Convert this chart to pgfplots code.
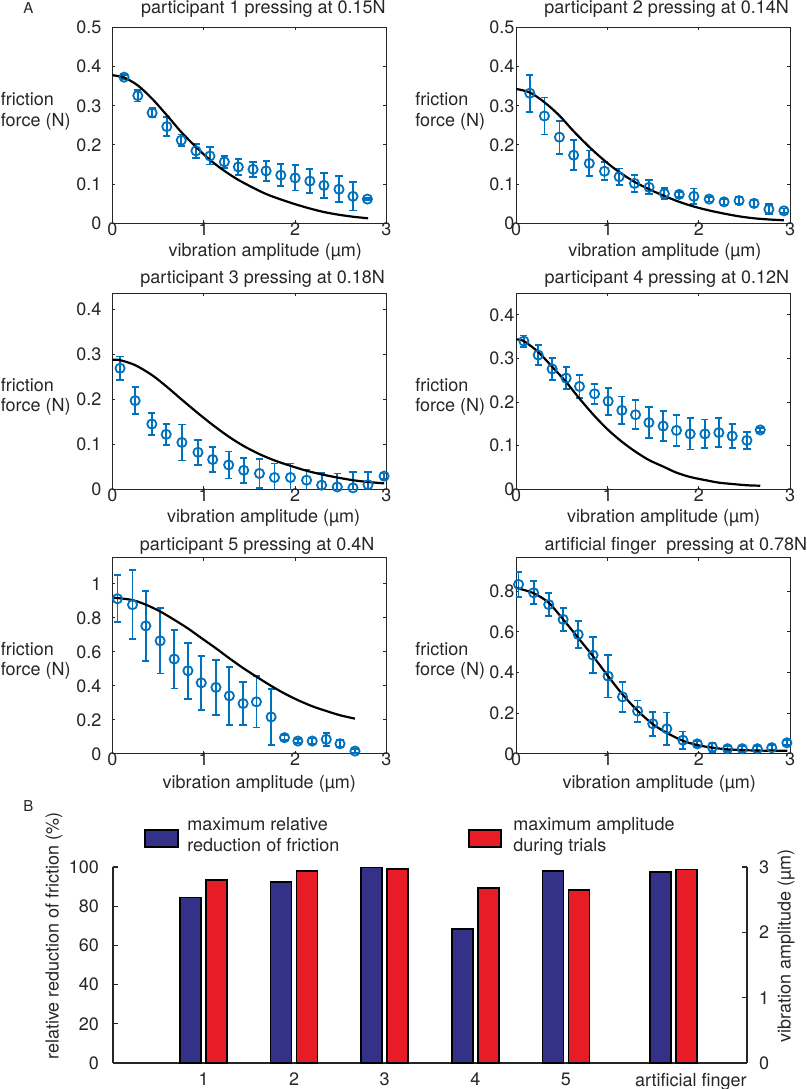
\documentclass[border=0pt]{standalone}
\usepackage{fontspec}
\setmainfont{TeX Gyre Heros}
\usepackage{pgfplots}
\pgfplotsset{compat=1.18}
\usepackage{pgfplotstable}

\definecolor{mblue}{RGB}{0,114,189}
\definecolor{bblue}{RGB}{52,50,136}
\definecolor{bred}{RGB}{232,28,38}
\definecolor{axgray}{RGB}{38,38,38}
\newcommand{\fs}{\fontsize{9}{10.8}\selectfont}

% ---------- panel 1 ----------
\pgfplotstableread{
x y e
0.128 0.373 0.005
0.278 0.326 0.015
0.435 0.282 0.012
0.596 0.247 0.024
0.754 0.212 0.015
0.915 0.185 0.018
1.068 0.172 0.022
1.226 0.157 0.015
1.379 0.144 0.020
1.540 0.138 0.019
1.683 0.134 0.025
1.844 0.123 0.028
2.001 0.116 0.032
2.162 0.108 0.031
2.316 0.097 0.032
2.481 0.087 0.033
2.634 0.069 0.036
2.792 0.062 0.003
}\measA
\pgfplotstableread{
x y
0 0.378
0.128 0.372
0.278 0.352
0.435 0.318
0.596 0.276
0.754 0.233
0.915 0.195
1.068 0.162
1.226 0.134
1.379 0.111
1.540 0.091
1.683 0.075
1.844 0.061
2.001 0.049
2.162 0.038
2.316 0.029
2.481 0.022
2.634 0.017
2.800 0.013
}\fitA
% ---------- panel 2 ----------
\pgfplotstableread{
x y e
0.149 0.332 0.047
0.309 0.274 0.047
0.473 0.220 0.042
0.629 0.174 0.038
0.800 0.153 0.033
0.967 0.133 0.023
1.127 0.119 0.021
1.295 0.102 0.022
1.455 0.092 0.018
1.622 0.076 0.014
1.785 0.074 0.007
1.945 0.069 0.020
2.113 0.062 0.006
2.276 0.055 0.007
2.440 0.058 0.009
2.604 0.051 0.008
2.767 0.036 0.013
2.931 0.032 0.006
}\measB
\pgfplotstableread{
x y
0 0.343
0.149 0.334
0.309 0.309
0.473 0.275
0.629 0.235
0.800 0.195
0.967 0.160
1.127 0.131
1.295 0.106
1.455 0.087
1.622 0.070
1.785 0.055
1.945 0.043
2.113 0.033
2.276 0.025
2.440 0.018
2.604 0.013
2.767 0.010
2.931 0.008
}\fitB
% ---------- panel 3 ----------
\pgfplotstableread{
x y e
0.084 0.269 0.026
0.249 0.197 0.030
0.432 0.145 0.025
0.589 0.122 0.023
0.761 0.104 0.040
0.937 0.082 0.028
1.098 0.066 0.027
1.273 0.054 0.030
1.438 0.042 0.028
1.610 0.035 0.033
1.775 0.026 0.031
1.950 0.026 0.031
2.126 0.020 0.024
2.291 0.009 0.027
2.462 0.005 0.030
2.634 0.003 0.036
2.799 0.010 0.028
2.975 0.029 0.006
}\measC
\pgfplotstableread{
x y
0 0.288
0.084 0.287
0.249 0.276
0.432 0.254
0.589 0.229
0.761 0.199
0.937 0.169
1.098 0.143
1.273 0.117
1.438 0.096
1.610 0.078
1.775 0.064
1.950 0.052
2.126 0.041
2.291 0.033
2.462 0.026
2.634 0.020
2.799 0.016
2.975 0.013
}\fitC
% ---------- panel 4 ----------
\pgfplotstableread{
x y e
0.084 0.340 0.013
0.241 0.308 0.023
0.394 0.276 0.026
0.547 0.255 0.025
0.693 0.236 0.026
0.858 0.219 0.023
1.007 0.202 0.031
1.157 0.181 0.032
1.307 0.171 0.033
1.453 0.153 0.035
1.609 0.145 0.035
1.755 0.135 0.036
1.905 0.127 0.036
2.066 0.127 0.033
2.219 0.130 0.033
2.365 0.122 0.028
2.526 0.112 0.020
2.672 0.136 0.005
}\measD
\pgfplotstableread{
x y
0 0.344
0.084 0.340
0.241 0.315
0.394 0.281
0.547 0.246
0.693 0.208
0.858 0.168
1.007 0.136
1.157 0.109
1.307 0.086
1.453 0.067
1.609 0.052
1.755 0.038
1.905 0.028
2.066 0.021
2.219 0.015
2.365 0.012
2.526 0.009
2.672 0.008
}\fitD
% ---------- panel 5 ----------
\pgfplotstableread{
x y e
0.055 0.913 0.138
0.220 0.878 0.204
0.366 0.753 0.207
0.523 0.665 0.192
0.677 0.558 0.173
0.827 0.489 0.165
0.973 0.418 0.158
1.134 0.391 0.163
1.281 0.341 0.172
1.431 0.296 0.125
1.577 0.306 0.151
1.738 0.217 0.166
1.884 0.095 0.015
2.031 0.075 0.013
2.188 0.075 0.015
2.342 0.085 0.039
2.492 0.059 0.020
2.656 0.016 0.013
}\measE
\pgfplotstableread{
x y
0 0.917
0.055 0.917
0.220 0.905
0.366 0.878
0.523 0.838
0.677 0.789
0.827 0.738
0.973 0.682
1.134 0.621
1.281 0.562
1.431 0.505
1.577 0.454
1.738 0.400
1.884 0.355
2.031 0.316
2.188 0.280
2.342 0.252
2.492 0.227
2.656 0.207
}\fitE
% ---------- panel 6 ----------
\pgfplotstableread{
x y e
0.026 0.833 0.060
0.191 0.792 0.057
0.356 0.734 0.055
0.514 0.661 0.056
0.679 0.587 0.068
0.841 0.485 0.089
1.006 0.382 0.105
1.164 0.280 0.074
1.329 0.210 0.052
1.495 0.148 0.059
1.649 0.123 0.080
1.825 0.067 0.043
1.983 0.049 0.012
2.148 0.033 0.023
2.314 0.025 0.012
2.475 0.025 0.012
2.640 0.025 0.012
2.798 0.030 0.012
2.964 0.054 0.012
}\measF
\pgfplotstableread{
x y
0 0.816
0.026 0.813
0.191 0.790
0.356 0.743
0.514 0.661
0.679 0.570
0.841 0.480
1.006 0.382
1.164 0.292
1.329 0.212
1.495 0.146
1.649 0.103
1.825 0.064
1.983 0.043
2.148 0.030
2.314 0.022
2.475 0.018
2.640 0.016
2.798 0.015
2.970 0.015
}\fitF
% ---------- bar chart ----------
\pgfplotstableread{
x red amp
1    84.4 2.80
2    92.3 2.94
3    99.7 2.97
4    68.5 2.68
5    98.1 2.65
6.19 97.4 2.96
}\bars

\pgfplotsset{
  panel/.style={
    scale only axis, width=137pt, height=98pt, anchor=south west,
    xmin=0, xmax=3, ymin=0, xtick={0,1,2,3},
    tick align=inside, major tick length=1.5pt,
    axis line style={axgray, line width=0.5pt},
    tick style={axgray, line width=0.5pt},
    ticklabel style={font=\fs, text=axgray},
    /pgf/number format/assume math mode=true,
    yticklabel style={/pgf/number format/fixed},
    xticklabel style={yshift=1.5pt, inner sep=1pt},
  },
  leftpanel/.style={panel, yticklabel style={xshift=-2pt}},
  rightpanel/.style={panel, yticklabel style={xshift=2.6pt}},
  meas/.style={mblue, line width=0.9pt, mark=o, mark size=2.3pt, only marks,
    error bars/.cd, y dir=both, y explicit,
    error bar style={line width=0.9pt, mblue},
    error mark options={rotate=90, mark size=1.8pt, line width=0.9pt, mblue}},
  fit/.style={black, line width=1.1pt, smooth, no marks},
}

\begin{document}
\begin{tikzpicture}
\path[use as bounding box] (0,0) rectangle (403.5pt,544.5pt);

\begin{axis}[leftpanel, at={(56.2pt,432.8pt)}, ymax=0.5, ytick={0,0.1,...,0.5}]
\addplot[meas] table[x=x,y=y,y error=e] {\measA};
\addplot[fit] table[x=x,y=y] {\fitA};
\end{axis}
\begin{axis}[rightpanel, at={(258.1pt,432.8pt)}, ymax=0.5, ytick={0,0.1,...,0.5}]
\addplot[meas] table[x=x,y=y,y error=e] {\measB};
\addplot[fit] table[x=x,y=y] {\fitB};
\end{axis}
\begin{axis}[leftpanel, at={(56.2pt,299.9pt)}, ymax=0.436, ytick={0,0.1,...,0.4}]
\addplot[meas] table[x=x,y=y,y error=e] {\measC};
\addplot[fit] table[x=x,y=y] {\fitC};
\end{axis}
\begin{axis}[rightpanel, at={(258.1pt,299.9pt)}, ymax=0.45, ytick={0,0.1,...,0.4}]
\addplot[meas] table[x=x,y=y,y error=e] {\measD};
\addplot[fit] table[x=x,y=y] {\fitD};
\end{axis}
\begin{axis}[leftpanel, at={(56.2pt,167.6pt)}, ymax=1.154, ytick={0,0.2,...,1.0}]
\addplot[meas] table[x=x,y=y,y error=e] {\measE};
\addplot[fit] table[x=x,y=y] {\fitE};
\end{axis}
\begin{axis}[rightpanel, at={(258.1pt,167.6pt)}, ymax=0.964, ytick={0,0.2,...,0.8}]
\addplot[meas] table[x=x,y=y,y error=e] {\measF};
\addplot[fit] table[x=x,y=y] {\fitF};
\end{axis}

% bar chart
\begin{axis}[at={(56.5pt,13pt)}, anchor=south west, scale only axis,
  width=317pt, height=98pt, clip=false,
  xmin=0, xmax=7, ymin=0, ymax=100,
  axis x line*=bottom, axis y line*=left,
  xtick={1,2,3,4,5,6.38}, xticklabels={1,2,3,4,5,artificial finger},
  x tick style={draw=none}, ytick={0,20,...,100},
  tick align=inside, major tick length=2.5pt,
  axis line style={axgray, line width=0.6pt},
  tick style={axgray, line width=0.6pt},
  ticklabel style={font=\fs, text=axgray},
  /pgf/number format/assume math mode=true,
  yticklabel style={xshift=-3.5pt}, xticklabel style={yshift=-1.5pt}]
\addplot[ybar, bar width=10.5pt, bar shift=-6.5pt, fill=bblue, draw=black, line width=0.8pt] table[x=x,y=red] {\bars};
\end{axis}
\begin{axis}[at={(56.5pt,13pt)}, anchor=south west, scale only axis,
  width=317pt, height=98pt, clip=false,
  xmin=0, xmax=7, ymin=0, ymax=3,
  axis y line*=right, axis x line=none,
  ytick={0,1,2,3},
  tick align=inside, major tick length=2.5pt,
  axis line style={axgray, line width=0.6pt},
  tick style={axgray, line width=0.6pt},
  ticklabel style={font=\fs, text=axgray},
  /pgf/number format/assume math mode=true,
  yticklabel style={xshift=2.5pt}]
\addplot[ybar, bar width=10.5pt, bar shift=6.5pt, fill=bred, draw=black, line width=0.8pt] table[x=x,y=amp] {\bars};
\end{axis}

\begin{scope}[x=0.5pt, y=-0.5pt, shift={(0pt,544.5pt)}, every node/.style={font=\fs, text=axgray, inner sep=0pt}]
% panel letters
\node[anchor=base west, font=\fontsize{7.5}{9}\selectfont] at (23,13.5) {A};
\node[anchor=base west, font=\fontsize{7.5}{9}\selectfont] at (23,812) {B};
% titles
\node[anchor=base west] at (140.7,14) {participant 1 pressing at 0.15N};
\node[anchor=base west] at (544,14) {participant 2 pressing at 0.14N};
\node[anchor=base west] at (140,283.7) {participant 3 pressing at 0.18N};
\node[anchor=base west] at (544.3,283.7) {participant 4 pressing at 0.12N};
\node[anchor=base west] at (139.5,551) {participant 5 pressing at 0.4N};
\node[anchor=base west] at (544.3,551) {artificial finger\ \ pressing at 0.78N};
% y labels
\node[anchor=base west] at (0.5,106) {friction};
\node[anchor=base west] at (0.5,126.7) {force (N)};
\node[anchor=base west] at (415,106) {friction};
\node[anchor=base west] at (415,126.7) {force (N)};
\node[anchor=base west] at (0.5,391.7) {friction};
\node[anchor=base west] at (0.5,411.7) {force (N)};
\node[anchor=base west] at (415,391.7) {friction};
\node[anchor=base west] at (415,411.7) {force (N)};
\node[anchor=base west] at (0.5,656) {friction};
\node[anchor=base west] at (0.5,676) {force (N)};
\node[anchor=base west] at (415,656) {friction};
\node[anchor=base west] at (415,676) {force (N)};
% x labels
\node[anchor=base west] at (168.3,257) {vibration amplitude (µm)};
\node[anchor=base west] at (568,257) {vibration amplitude (µm)};
\node[anchor=base west] at (166.7,523) {vibration amplitude (µm)};
\node[anchor=base west] at (566.7,523) {vibration amplitude (µm)};
\node[anchor=base west] at (162.3,788.5) {vibration amplitude (µm)};
\node[anchor=base west] at (562.3,788.5) {vibration amplitude (µm)};
% bar chart legend
\draw[fill=bblue, draw=black, line width=0.9pt] (145,830) rectangle (178,847);
\node[anchor=base west] at (187,830.7) {maximum relative};
\node[anchor=base west] at (187,852) {reduction of friction};
\draw[fill=bred, draw=black, line width=0.9pt] (469,830) rectangle (501,847);
\node[anchor=base west] at (513,830.7) {maximum amplitude};
\node[anchor=base west] at (513,852) {during trials};
% bar chart axis labels
\node[rotate=90] at (54,936) {relative reduction of friction (\%)};
\node[rotate=90] at (786,946) {vibration amplitude (µm)};
\end{scope}
\end{tikzpicture}
\end{document}
